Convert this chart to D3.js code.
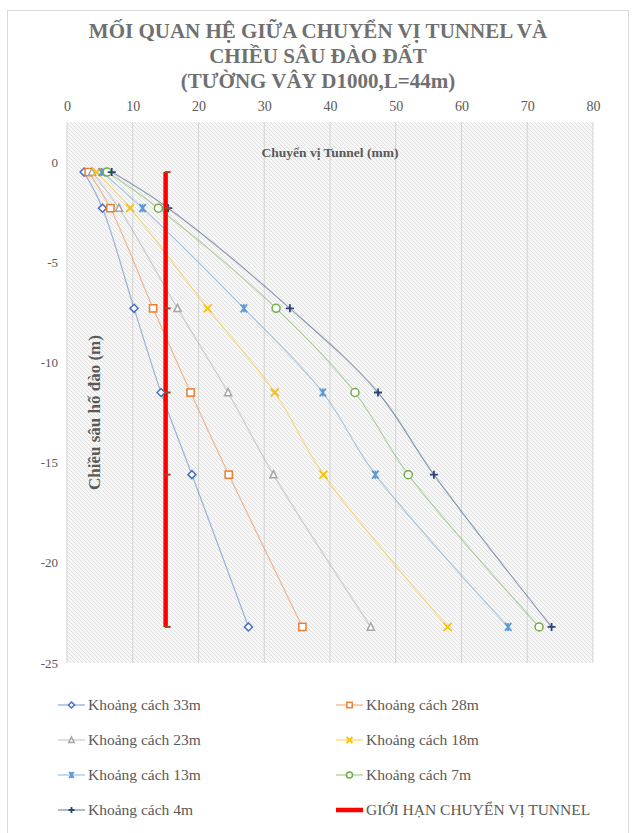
<!DOCTYPE html>
<html>
<head>
<meta charset="utf-8">
<script src="https://cdn.jsdelivr.net/npm/d3@7"></script>
<style>
  html, body { margin: 0; padding: 0; background: #fff; }
  svg { display: block; }
  text { font-family: "Liberation Serif", "Times New Roman", serif; }
</style>
</head>
<body>
<svg id="chart" width="634" height="833"></svg>
<script>
// Excavation depth (m) at each measured stage
const depths = [-0.5, -2.3, -7.3, -11.5, -15.6, -23.2];

// Tunnel displacement (mm) for each distance from the diaphragm wall
const dist33 = [2.6, 5.4, 10.2, 14.3, 19.0, 27.6];
const dist28 = [3.3, 6.6, 13.1, 18.8, 24.6, 35.8];
const dist23 = [3.8, 7.9, 16.8, 24.5, 31.4, 46.2];
const dist18 = [4.5, 9.6, 21.4, 31.6, 39.0, 57.9];
const dist13 = [5.3, 11.5, 26.9, 38.9, 46.9, 67.1];
const dist7  = [6.1, 13.9, 31.8, 43.8, 51.9, 71.8];
const dist4  = [6.8, 15.4, 33.9, 47.3, 55.8, 73.7];
const tunnelLimit = [15, 15, 15, 15, 15, 15];

const seriesNames = [
  "Khoảng cách 33m", "Khoảng cách 28m", "Khoảng cách 23m", "Khoảng cách 18m",
  "Khoảng cách 13m", "Khoảng cách 7m", "Khoảng cách 4m", "GIỚI HẠN CHUYỂN VỊ TUNNEL"
];

const xTicks = [0, 10, 20, 30, 40, 50, 60, 70, 80];
const yTicks = [0, -5, -10, -15, -20, -25];

const titleLines = ["MỐI QUAN HỆ GIỮA CHUYỂN VỊ TUNNEL VÀ", "CHIỀU SÂU ĐÀO ĐẤT", "(TƯỜNG VÂY D1000,L=44m)"];
const xTitle = "Chuyển vị Tunnel (mm)";
const yTitle = "Chiều sâu hố đào (m)";

const series = [
  { name: seriesNames[0], values: dist33, color: "#4472C4", marker: "diamond" },
  { name: seriesNames[1], values: dist28, color: "#ED7D31", marker: "square" },
  { name: seriesNames[2], values: dist23, color: "#A5A5A5", marker: "triangle" },
  { name: seriesNames[3], values: dist18, color: "#FFC000", marker: "x" },
  { name: seriesNames[4], values: dist13, color: "#5B9BD5", marker: "star" },
  { name: seriesNames[5], values: dist7,  color: "#70AD47", marker: "circle" },
  { name: seriesNames[6], values: dist4,  color: "#264478", marker: "plus" },
  { name: seriesNames[7], values: tunnelLimit, color: "#FF0000", marker: "dash", limit: true }
];

const svg = d3.select("#chart");
const textColor = "#595959";

// chart frame
svg.append("rect")
  .attr("x", 7.5).attr("y", 10.5).attr("width", 621).attr("height", 835)
  .attr("fill", "#fff").attr("stroke", "#d9d9d9");

// hatched plot background
const defs = svg.append("defs");
const pat = defs.append("pattern")
  .attr("id", "hatch").attr("patternUnits", "userSpaceOnUse")
  .attr("width", 4).attr("height", 4);
pat.append("rect").attr("width", 4).attr("height", 4).attr("fill", "#f7f7f7");
pat.append("path").attr("d", "M-1,-1 L5,5 M-1,3 L1,5 M3,-1 L5,1")
  .attr("stroke", "#dedede").attr("stroke-width", 0.9);

const x = d3.scaleLinear().domain([0, 80]).range([67, 593]);
const y = d3.scaleLinear().domain([-25, 2]).range([663, 122]);

svg.append("rect")
  .attr("x", x(0)).attr("y", y(2))
  .attr("width", x(80) - x(0)).attr("height", y(-25) - y(2))
  .attr("fill", "url(#hatch)");

// vertical gridlines
svg.append("g").selectAll("line").data(xTicks).join("line")
  .attr("x1", d => x(d)).attr("x2", d => x(d))
  .attr("y1", y(2)).attr("y2", y(-25))
  .attr("stroke", "#d3d3d3").attr("stroke-width", 1);

// top axis labels
const xAxis = d3.axisTop(x).tickValues(xTicks).tickSize(0).tickPadding(0);
const gx = svg.append("g").attr("transform", `translate(0,${111})`).call(xAxis);
gx.select(".domain").remove();
gx.selectAll("text")
  .attr("fill", textColor).attr("font-size", 14)
  .attr("font-family", "Liberation Serif, Times New Roman, serif");

// left axis labels (plain hyphen for negatives)
const yAxis = d3.axisLeft(y).tickValues(yTicks).tickSize(0).tickPadding(0)
  .tickFormat(d => String(d));
const gy = svg.append("g").attr("transform", `translate(${58},0)`).call(yAxis);
gy.select(".domain").remove();
gy.selectAll("text")
  .attr("fill", textColor).attr("font-size", 13)
  .attr("font-family", "Liberation Serif, Times New Roman, serif");

// titles
svg.append("g").selectAll("text").data(titleLines).join("text")
  .attr("x", 318).attr("y", (d, i) => 38 + i * 25)
  .attr("text-anchor", "middle")
  .attr("font-size", 21).attr("font-weight", "bold")
  .attr("fill", "#707070")
  .text(d => d);

svg.append("text")
  .attr("x", x(40)).attr("y", 157)
  .attr("text-anchor", "middle")
  .attr("font-size", 13.5).attr("font-weight", "bold")
  .attr("fill", textColor)
  .text(xTitle);

svg.append("text")
  .attr("transform", `translate(100,${y(-12.5)}) rotate(-90)`)
  .attr("text-anchor", "middle")
  .attr("font-size", 17).attr("font-weight", "bold")
  .attr("fill", textColor)
  .text(yTitle);

// marker shapes
function drawMarker(g, type, color, size) {
  const s = size;
  switch (type) {
    case "diamond":
      g.append("path").attr("d", `M0,${-s} L${s},0 L0,${s} L${-s},0 Z`)
        .attr("fill", "#fff").attr("stroke", color).attr("stroke-width", 1.5);
      break;
    case "square":
      g.append("rect").attr("x", -s * 0.9).attr("y", -s * 0.9)
        .attr("width", s * 1.8).attr("height", s * 1.8)
        .attr("fill", "#fff").attr("stroke", color).attr("stroke-width", 1.5);
      break;
    case "triangle":
      g.append("path").attr("d", `M0,${-s} L${s * 0.9},${s * 0.8} L${-s * 0.9},${s * 0.8} Z`)
        .attr("fill", "#fff").attr("stroke", color).attr("stroke-width", 1.5);
      break;
    case "x":
      g.append("path").attr("d", `M${-s},${-s} L${s},${s} M${-s},${s} L${s},${-s}`)
        .attr("stroke", color).attr("stroke-width", 1.8);
      break;
    case "star":
      g.append("path").attr("d", `M${-s * 0.8},${-s} L${s * 0.8},${s} M${-s * 0.8},${s} L${s * 0.8},${-s} M0,${-s} L0,${s}`)
        .attr("stroke", color).attr("stroke-width", 1.8);
      break;
    case "circle":
      g.append("circle").attr("r", s)
        .attr("fill", "#fff").attr("stroke", color).attr("stroke-width", 1.5);
      break;
    case "plus":
      g.append("path").attr("d", `M${-s},0 L${s},0 M0,${-s} L0,${s}`)
        .attr("stroke", color).attr("stroke-width", 1.8);
      break;
    case "dash":
      g.append("path").attr("d", `M-1,0 L5,0`)
        .attr("stroke", "#9c4a1a").attr("stroke-width", 2);
      break;
  }
}

const line = d3.line()
  .x(d => x(d[0])).y(d => y(d[1]))
  .curve(d3.curveCatmullRom.alpha(0.5));

const plot = svg.append("g");
series.forEach(s => {
  const pts = s.values.map((v, i) => [v, depths[i]]);
  if (s.limit) {
    plot.append("path").datum(pts)
      .attr("d", d3.line().x(d => x(d[0])).y(d => y(d[1])))
      .attr("fill", "none").attr("stroke", s.color).attr("stroke-width", 4.5);
  } else {
    plot.append("path").datum(pts)
      .attr("d", line)
      .attr("fill", "none").attr("stroke", s.color)
      .attr("stroke-opacity", 0.5).attr("stroke-width", 1.2);
  }
});
series.forEach(s => {
  s.values.forEach((v, i) => {
    const g = plot.append("g").attr("transform", `translate(${x(v)},${y(depths[i])})`);
    drawMarker(g, s.marker, s.color, 4);
  });
});

// legend
const legend = svg.append("g");
series.forEach((s, i) => {
  const col = i % 2, row = Math.floor(i / 2);
  const lx = col === 0 ? 58 : 336;
  const ly = 705 + row * 35;
  const g = legend.append("g").attr("transform", `translate(${lx},${ly})`);
  g.append("line").attr("x1", 0).attr("x2", 27).attr("y1", 0).attr("y2", 0)
    .attr("stroke", s.color)
    .attr("stroke-width", s.limit ? 4.5 : 1.25)
    .attr("stroke-opacity", s.limit ? 1 : 0.6);
  if (!s.limit) {
    const m = g.append("g").attr("transform", "translate(13.5,0)");
    drawMarker(m, s.marker, s.color, 3);
  }
  g.append("text").attr("x", 30).attr("y", 5)
    .attr("font-size", 15.5).attr("fill", textColor)
    .text(s.name);
});
</script>
</body>
</html>
